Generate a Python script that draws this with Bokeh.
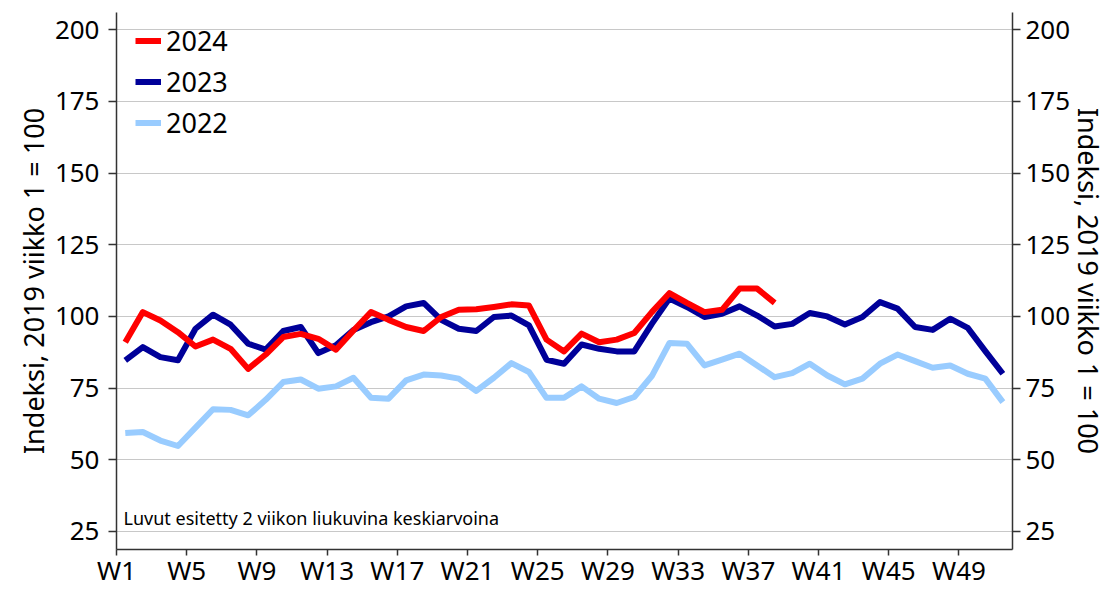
from bokeh.plotting import figure
from bokeh.models import (Range1d, FixedTicker, LinearAxis, Legend, LegendItem,
                          Label, ColumnDataSource)
from bokeh.transform import dodge
from bokeh.embed import file_html
from bokeh.resources import INLINE

# ---- data -------------------------------------------------------------
week_ticks = [1, 5, 9, 13, 17, 21, 25, 29, 33, 37, 41, 45, 49]
tick_labels = ["W1", "W5", "W9", "W13", "W17", "W21", "W25", "W29",
               "W33", "W37", "W41", "W45", "W49"]
y_ticks = [25, 50, 75, 100, 125, 150, 175, 200]

series_names = ["2024", "2023", "2022"]

s2024 = [91.0, 101.5, 98.6, 94.5, 89.5, 91.9, 88.7, 81.7, 86.7, 92.8,
         93.9, 92.2, 88.4, 95.1, 101.5, 98.8, 96.3, 94.9, 99.8, 102.3,
         102.5, 103.3, 104.2, 103.8, 91.9, 87.8, 94.0, 91.0, 91.9, 94.2,
         101.5, 108.1, 104.7, 101.5, 102.3, 109.7, 109.7, 104.7]

s2023 = [84.7, 89.3, 85.8, 84.7, 95.7, 100.6, 97.1, 90.5, 88.4, 94.9,
         96.3, 87.2, 89.9, 95.3, 98.0, 100.0, 103.5, 104.7, 98.8, 95.7,
         94.9, 99.8, 100.3, 96.9, 84.9, 83.5, 90.2, 88.7, 87.8, 87.8,
         97.4, 106.2, 103.3, 99.8, 100.9, 103.5, 100.3, 96.5, 97.4, 101.2,
         100.0, 97.2, 99.8, 105.0, 102.7, 96.3, 95.3, 99.2, 96.0, 87.9, 80.0]

s2022 = [59.3, 59.7, 56.7, 54.8, 61.2, 67.6, 67.4, 65.5, 70.9, 77.1,
         78.0, 74.8, 75.6, 78.6, 71.6, 71.3, 77.7, 79.7, 79.4, 78.3,
         74.0, 78.6, 83.7, 80.6, 71.6, 71.6, 75.6, 71.3, 69.8, 71.9,
         79.2, 90.7, 90.5, 82.9, 84.9, 87.0, 82.9, 78.8, 80.2, 83.5,
         79.4, 76.3, 78.3, 83.5, 86.7, 84.4, 82.1, 82.9, 80.0, 78.3, 70.1]

note_text = "Luvut esitetty 2 viikon liukuvina keskiarvoina"
y_title = "Indeksi, 2019 viikko 1 = 100"

# ---- styling ----------------------------------------------------------
FONT = "Noto Sans"
colors = {"2024": "#ff0000", "2023": "#000099", "2022": "#99ccff"}
AXIS_COLOR = "#333333"

p = figure(width=1110, height=590, output_backend="svg", toolbar_location=None,
           x_range=Range1d(1, 52.05), y_range=Range1d(18.7, 206),
           min_border_left=116, min_border_right=98,
           min_border_top=12, min_border_bottom=41)
p.outline_line_color = None
p.background_fill_color = "white"
p.border_fill_color = "white"

p.xgrid.visible = False
p.ygrid.ticker = FixedTicker(ticks=y_ticks)
p.ygrid.grid_line_color = "#c8c8c8"
p.ygrid.grid_line_width = 1

# x axis
xa = p.xaxis[0]
xa.ticker = FixedTicker(ticks=week_ticks)
xa.major_label_overrides = dict(zip(week_ticks, tick_labels))
xa.major_tick_in = 0
xa.major_tick_out = 6
xa.minor_tick_line_color = None
xa.axis_line_color = AXIS_COLOR
xa.axis_line_width = 1.5
xa.major_tick_line_color = AXIS_COLOR
xa.major_tick_line_width = 1.5
xa.major_label_text_font = FONT
xa.major_label_text_font_size = "26px"
xa.major_label_text_color = "#000000"
xa.major_label_standoff = -4

# y axes
ya = p.yaxis[0]
ya2 = LinearAxis()
p.add_layout(ya2, "right")
for ax in (ya, ya2):
    ax.ticker = FixedTicker(ticks=y_ticks)
    ax.major_tick_in = 0
    ax.major_tick_out = 8
    ax.minor_tick_line_color = None
    ax.axis_line_color = AXIS_COLOR
    ax.axis_line_width = 1.5
    ax.major_tick_line_color = AXIS_COLOR
    ax.major_tick_line_width = 1.5
    ax.major_label_text_font = FONT
    ax.major_label_text_font_size = "26px"
    ax.major_label_text_color = "#000000"
    ax.axis_label = y_title
    ax.axis_label_text_font = FONT
    ax.axis_label_text_font_size = "27px"
    ax.axis_label_text_font_style = "normal"
    ax.axis_label_text_color = "#000000"

ya.major_label_standoff = 9
ya.axis_label_standoff = 0
ya2.major_label_standoff = 5
ya2.axis_label_standoff = -3

# lines
renderers = {}
for name, vals in (("2022", s2022), ("2023", s2023), ("2024", s2024)):
    src = ColumnDataSource(dict(week=list(range(1, len(vals) + 1)), v=vals))
    renderers[name] = p.line(x=dodge("week", 0.5), y="v", source=src,
                             line_color=colors[name], line_width=6,
                             line_join="round")

legend = Legend(items=[LegendItem(label=n, renderers=[renderers[n]]) for n in series_names],
                location=(9, 396))
legend.margin = 0
legend.padding = 10
legend.spacing = 0
legend.glyph_width = 26
legend.glyph_height = 41
legend.label_height = 41
legend.label_standoff = 5
legend.label_text_font = FONT
legend.label_text_font_size = "27px"
legend.label_text_color = "#000000"
legend.background_fill_alpha = 0
legend.border_line_alpha = 0
p.add_layout(legend)

p.add_layout(Label(x=1.4, y=29.8, text=note_text, text_font=FONT,
                   text_font_size="18px", text_baseline="middle",
                   text_color="#000000"))

open("out.html", "w").write(file_html(p, INLINE))
